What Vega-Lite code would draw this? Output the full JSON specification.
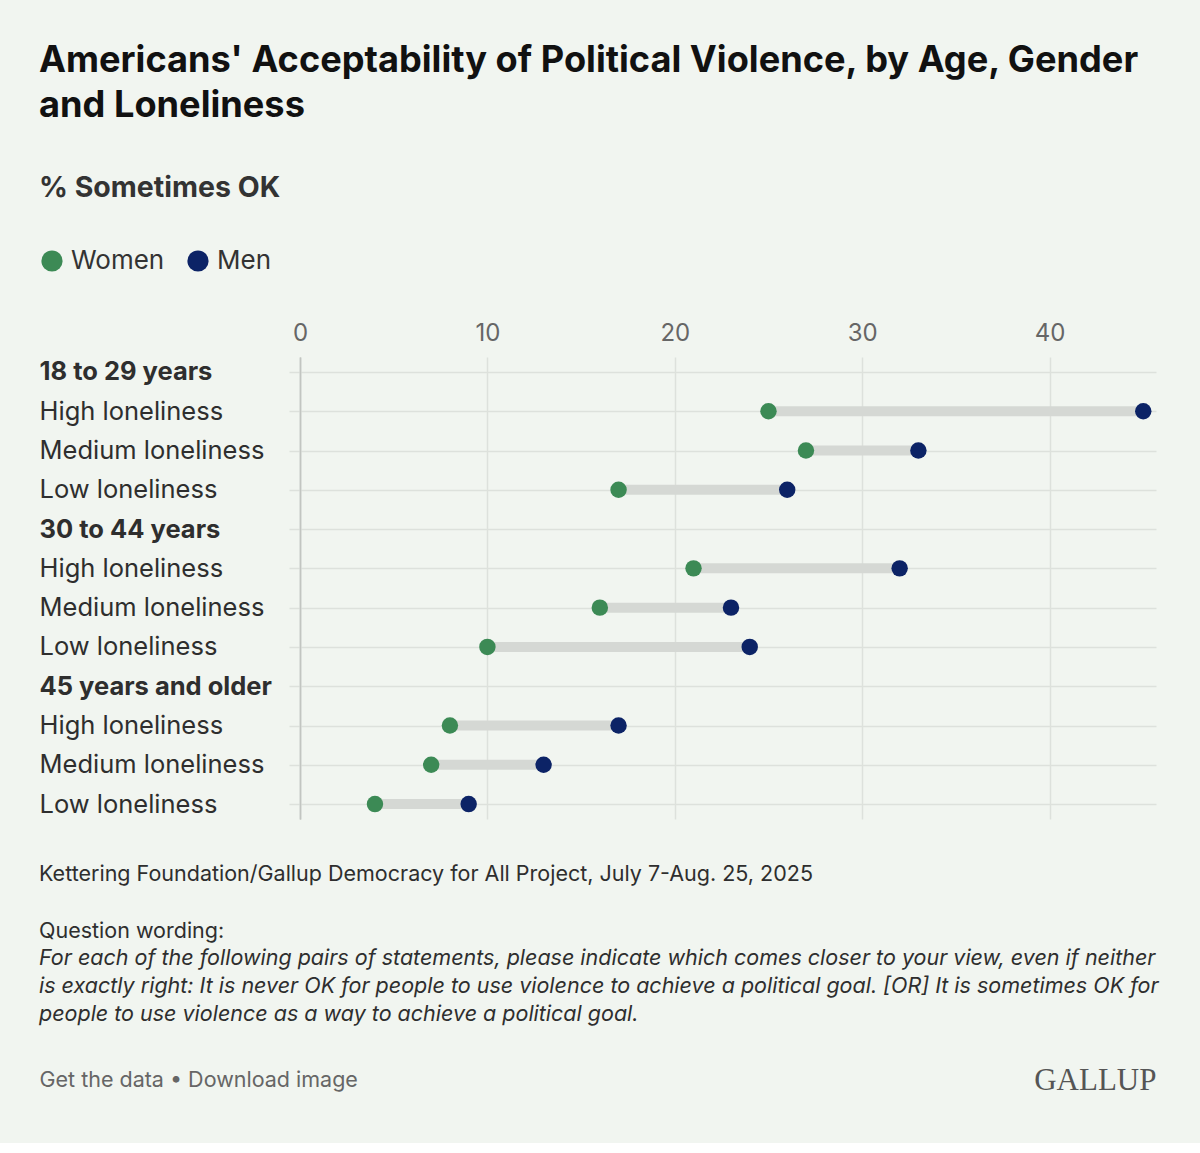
{
  "$schema": "https://vega.github.io/schema/vega-lite/v6.json",
  "background": "#f1f5f0",
  "padding": {"left": 39, "top": 43, "right": 43, "bottom": 48},
  "spacing": 45,
  "config": {"view": {"stroke": null}, "font": "Inter"},
  "datasets": {
    "pairs": [
      {"row": "18-29|High loneliness", "Women": 25, "Men": 45},
      {"row": "18-29|Medium loneliness", "Women": 27, "Men": 33},
      {"row": "18-29|Low loneliness", "Women": 17, "Men": 26},
      {"row": "30-44|High loneliness", "Women": 21, "Men": 32},
      {"row": "30-44|Medium loneliness", "Women": 16, "Men": 23},
      {"row": "30-44|Low loneliness", "Women": 10, "Men": 24},
      {"row": "45+|High loneliness", "Women": 8, "Men": 17},
      {"row": "45+|Medium loneliness", "Women": 7, "Men": 13},
      {"row": "45+|Low loneliness", "Women": 4, "Men": 9}
    ]
  },
  "vconcat": [
    {
      "width": 856,
      "height": 462,
      "data": {"name": "pairs"},
      "title": {
        "text": ["Americans' Acceptability of Political Violence, by Age, Gender", "and Loneliness"],
        "subtitle": "% Sometimes OK",
        "anchor": "start",
        "font": "Inter",
        "fontSize": 36.2,
        "fontWeight": 700,
        "color": "#111111",
        "lineHeight": 45,
        "subtitleFont": "Inter",
        "subtitleFontSize": 28.5,
        "subtitleFontWeight": 700,
        "subtitleColor": "#333333",
        "subtitlePadding": 50,
        "offset": 118
      },
      "encoding": {
        "y": {
          "field": "row",
          "type": "nominal",
          "scale": {
            "type": "point",
            "padding": 0.38,
            "domain": [
              "18 to 29 years", "18-29|High loneliness", "18-29|Medium loneliness", "18-29|Low loneliness",
              "30 to 44 years", "30-44|High loneliness", "30-44|Medium loneliness", "30-44|Low loneliness",
              "45 years and older", "45+|High loneliness", "45+|Medium loneliness", "45+|Low loneliness"
            ]
          },
          "axis": {
            "title": null,
            "orient": "left",
            "grid": true,
            "gridColor": "#dde1dc",
            "gridWidth": 1.5,
            "ticks": true,
            "tickSize": 11,
            "tickColor": "#dde1dc",
            "tickWidth": 1.5,
            "domain": true,
            "domainColor": "#c2c5c1",
            "domainWidth": 1.5,
            "labelAlign": "left",
            "labelBaseline": "middle",
            "labelPadding": 250,
            "labelLimit": 400,
            "labelFont": "Inter",
            "labelFontSize": 25.5,
            "labelColor": "#2e2e2e",
            "labelExpr": "indexof(datum.value, '|') >= 0 ? split(datum.value, '|')[1] : datum.value",
            "labelFontWeight": {"condition": {"test": "indexof(datum.value, '|') < 0", "value": "bold"}, "value": "normal"}
          }
        }
      },
      "layer": [
        {
          "mark": {"type": "rule", "strokeWidth": 10, "color": "#d5d8d4"},
          "encoding": {
            "x": {
              "field": "Women",
              "type": "quantitative",
              "scale": {"domain": [0, 45.68], "nice": false},
              "axis": {
                "orient": "top",
                "title": null,
                "values": [0, 10, 20, 30, 40],
                "format": "d",
                "grid": true,
                "gridColor": {"condition": {"test": "datum.value === 0", "value": "#c2c5c1"}, "value": "#dde1dc"},
                "gridWidth": 1.5,
                "domain": false,
                "ticks": false,
                "tickSize": 0,
                "labelPadding": 12,
                "labelFont": "Inter",
                "labelFontSize": 24,
                "labelColor": "#666666",
                "labelFlush": false
              }
            },
            "x2": {"field": "Men"}
          }
        },
        {
          "transform": [{"fold": ["Women", "Men"], "as": ["Gender", "pct"]}],
          "mark": {"type": "circle", "size": 270, "opacity": 1},
          "encoding": {
            "x": {
              "field": "pct",
              "type": "quantitative",
              "axis": {
                "orient": "top",
                "title": null,
                "values": [0, 10, 20, 30, 40],
                "format": "d",
                "grid": true,
                "gridColor": {"condition": {"test": "datum.value === 0", "value": "#c2c5c1"}, "value": "#dde1dc"},
                "gridWidth": 1.5,
                "domain": false,
                "ticks": false,
                "tickSize": 0,
                "labelPadding": 12,
                "labelFont": "Inter",
                "labelFontSize": 24,
                "labelColor": "#666666",
                "labelFlush": false
              }
            },
            "color": {
              "field": "Gender",
              "type": "nominal",
              "scale": {"domain": ["Women", "Men"], "range": ["#3c8a55", "#0c2366"]},
              "legend": {
                "orient": "none",
                "legendX": -261,
                "legendY": -109,
                "direction": "horizontal",
                "title": null,
                "symbolType": "circle",
                "symbolSize": 450,
                "symbolStrokeWidth": 0,
                "symbolOpacity": 1,
                "labelFont": "Inter",
                "labelFontSize": 26,
                "labelColor": "#333333",
                "labelOffset": 6,
                "columnPadding": 20
              }
            }
          }
        }
      ]
    },
    {
      "width": 856,
      "height": 30,
      "data": {"values": []},
      "mark": "point",
      "title": {
        "text": ["Kettering Foundation/Gallup Democracy for All Project, July 7-Aug. 25, 2025", "Question wording:"],
        "subtitle": [
          "For each of the following pairs of statements, please indicate which comes closer to your view, even if neither",
          "is exactly right: It is never OK for people to use violence to achieve a political goal. [OR] It is sometimes OK for",
          "people to use violence as a way to achieve a political goal."
        ],
        "anchor": "start",
        "font": "Inter",
        "fontSize": 21.5,
        "fontWeight": "normal",
        "color": "#2e2e2e",
        "lineHeight": 57,
        "subtitleFont": "Inter",
        "subtitleFontSize": 21.5,
        "subtitleFontStyle": "italic",
        "subtitleColor": "#2e2e2e",
        "subtitleLineHeight": 28,
        "subtitlePadding": 5,
        "offset": 12
      },
      "encoding": {
        "x": {
          "field": "k",
          "type": "nominal",
          "scale": {"type": "point", "padding": 0, "domain": ["Get the data • Download image", "GALLUP"]},
          "axis": {
            "orient": "bottom",
            "title": null,
            "domain": false,
            "ticks": false,
            "tickSize": 0,
            "grid": false,
            "labelAngle": 0,
            "labelPadding": 13,
            "labelBaseline": "middle",
            "labelOverlap": false,
            "labelBound": false,
            "labelLimit": 400,
            "labelOffset": {"condition": {"test": "datum.value === 'GALLUP'", "value": 0}, "value": -261},
            "labelAlign": {"condition": {"test": "datum.value === 'GALLUP'", "value": "right"}, "value": "left"},
            "labelFont": {"condition": {"test": "datum.value === 'GALLUP'", "value": "Liberation Serif"}, "value": "Inter"},
            "labelFontSize": {"condition": {"test": "datum.value === 'GALLUP'", "value": 31}, "value": 21.5},
            "labelColor": {"condition": {"test": "datum.value === 'GALLUP'", "value": "#555555"}, "value": "#666666"}
          }
        }
      }
    }
  ]
}
